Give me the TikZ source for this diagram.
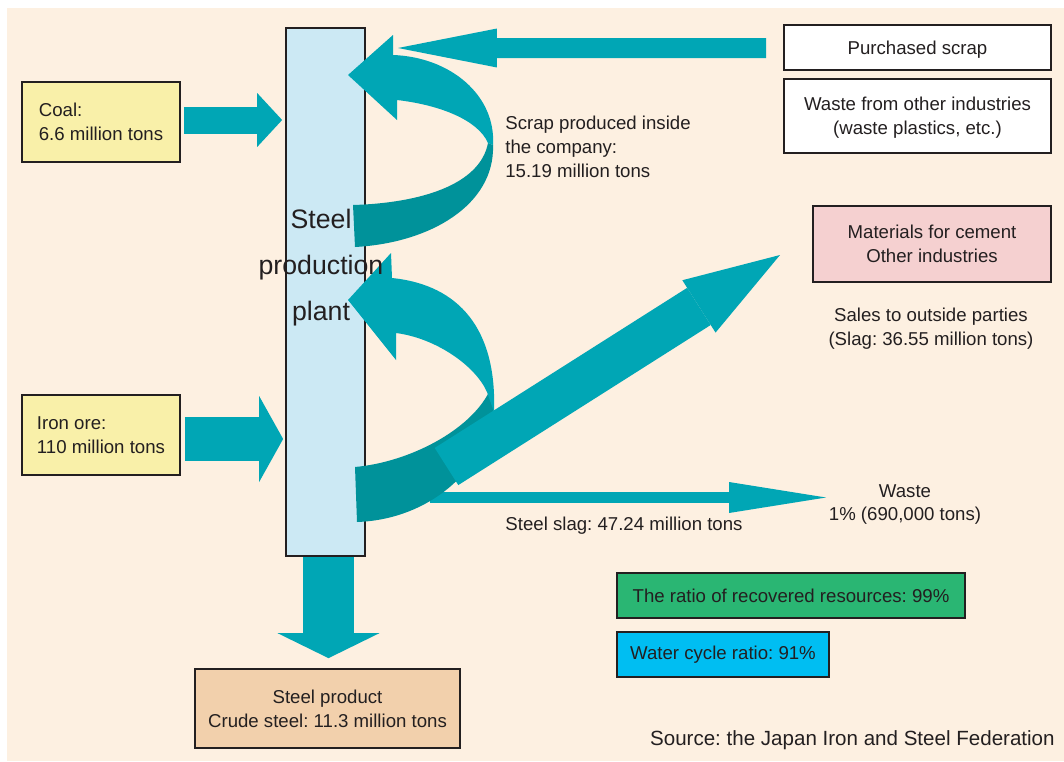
\documentclass[tikz,border=0pt]{standalone}
\usepackage{fontspec}
\setmainfont{Liberation Sans}
\usetikzlibrary{arrows.meta,calc}
\frenchspacing

\definecolor{cream}{HTML}{FDF0E1}
\definecolor{flowteal}{HTML}{00A6B5}
\definecolor{flowdark}{HTML}{00929A}
\definecolor{plantblue}{HTML}{CCE9F4}
\definecolor{inyellow}{HTML}{F9F0A9}
\definecolor{prodtan}{HTML}{F2D0AC}
\definecolor{cementpink}{HTML}{F5D0D0}
\definecolor{ratiogreen}{HTML}{2AB673}
\definecolor{waterblue}{HTML}{00BEF2}
\definecolor{txtgray}{HTML}{231F20}

\tikzset{
  box/.style={draw=txtgray, line width=1pt, text=txtgray, inner sep=0pt, align=center},
  fatflow/.style={draw=flowteal, line cap=butt},
}

\begin{document}
\begin{tikzpicture}[x=0.02cm, y=-0.02cm, font=\fontsize{10.6}{13.6}\selectfont, text=txtgray]

\useasboundingbox (0,0) rectangle (1064,761);
\fill[cream] (7,8) rectangle (1064,761);

% ===== Boxes =====
\node[box, fill=plantblue, minimum width=1.58cm, minimum height=10.56cm] (plant) at (325.5,292) {};
\node[box, fill=inyellow, minimum width=3.16cm, minimum height=1.6cm, align=left] (coal) at (101,122) {Coal:\\6.6 million tons};
\node[box, fill=inyellow, minimum width=3.16cm, minimum height=1.6cm, align=left] (iron) at (101,435) {Iron ore:\\110 million tons};
\node[box, fill=prodtan, minimum width=5.3cm, minimum height=1.58cm] (prod) at (327.5,708.5) {Steel product\\Crude steel: 11.3 million tons};
\node[box, fill=white, minimum width=5.34cm, minimum height=0.9cm, text depth=0pt] (purch) at (917.5,47.5) {Purchased scrap};
\node[box, fill=white, minimum width=5.34cm, minimum height=1.48cm, text depth=0pt] (otherwaste) at (917.5,116) {Waste from other industries\\(waste plastics, etc.)};
\node[box, fill=cementpink, minimum width=4.76cm, minimum height=1.52cm] (cement) at (932,244) {Materials for cement\\Other industries};
\node[box, fill=ratiogreen, minimum width=6.96cm, minimum height=0.9cm] (ratio) at (791,595.5) {The ratio of recovered resources: 99\%};
\node[box, fill=waterblue, minimum width=4.24cm, minimum height=0.9cm] (water) at (723,654.5) {Water cycle ratio: 91\%};

% ===== Straight flows =====
\coordinate (scrapin) at (398,48);
\coordinate (slagsplit) at (430,497.5);
\coordinate (slagend) at (826,497.5);
\coordinate (slagbase) at (446.5,466.5);
\coordinate (slagtip) at (780,255);

\draw[fatflow, line width=0.54cm, -{Triangle[length=0.5cm, width=1.08cm, line width=0pt]}]
  ($(coal.east)+(3,-2)$) -- ($(coal.east -| plant.west)+(-3,-2)$);
\draw[fatflow, line width=0.88cm, -{Triangle[length=0.48cm, width=1.72cm, line width=0pt]}]
  ($(iron.east)+(4,4)$) -- ($(iron.east -| plant.west)+(-2,4)$);
\draw[fatflow, line width=1.02cm, -{Triangle[length=0.5cm, width=2.04cm, line width=0pt]}]
  ($(plant.south)+(3,0)$) -- ($(prod.north)+(1,-10)$);
\draw[fatflow, line width=0.4cm, -{Triangle[length=1.98cm, width=0.78cm, line width=0pt]}]
  ($(purch.west)+(-17,0.5)$) -- (scrapin);
\draw[fatflow, line width=0.22cm, -{Triangle[length=1.94cm, width=0.62cm, line width=0pt]}]
  (slagsplit) -- (slagend);

% ===== Loop: scrap produced inside =====
\fill[flowdark] (488,143) .. controls (480,185) and (420,203) .. (353,205) -- (355,247)
  .. controls (430,243) and (495,205) .. (493,145) -- cycle;
\fill[flowteal] (493,145) .. controls (496,95) and (450,57) .. (393,55) -- (393,35) -- (348,75)
  -- (397,120) -- (397,100) .. controls (440,105) and (478,120) .. (488,143) -- cycle;

% ===== Loop: slag back to plant =====
\fill[flowdark] (489,392) .. controls (470,430) and (410,462) .. (355,467) -- (357,522)
  .. controls (420,520) and (480,480) .. (494,412) -- cycle;
\fill[flowteal] (494,412) .. controls (497,330) and (460,285) .. (392,278) -- (391,253) -- (348,300)
  -- (396,360) -- (396,333) .. controls (435,338) and (475,365) .. (487,392) -- cycle;

\draw[fatflow, line width=0.88cm, -{Triangle[length=1.92cm, width=1.24cm, line width=0pt]}]
  (slagbase) -- (slagtip);

% ===== Labels =====
\node[font=\fontsize{15.2}{26}\selectfont, align=center] (plantlbl) at (321,267.5) {Steel\\production\\plant};
\node[anchor=west, align=left, inner sep=0pt] (scraplbl) at (505,147) {Scrap produced inside\\the company:\\15.19 million tons};
\node[align=center] (saleslbl) at (931,329) {Sales to outside parties\\(Slag: 36.55 million tons)};
\node[align=center] (wastelbl) at (905,504.5) {Waste\\1\% (690,000 tons)};
\node (slaglbl) at (624,526) {Steel slag: 47.24 million tons};
\node[anchor=east, inner sep=0pt, font=\fontsize{11.7}{14}\selectfont] (source) at (1055,740) {Source: the Japan Iron and Steel Federation};

\end{tikzpicture}
\end{document}
